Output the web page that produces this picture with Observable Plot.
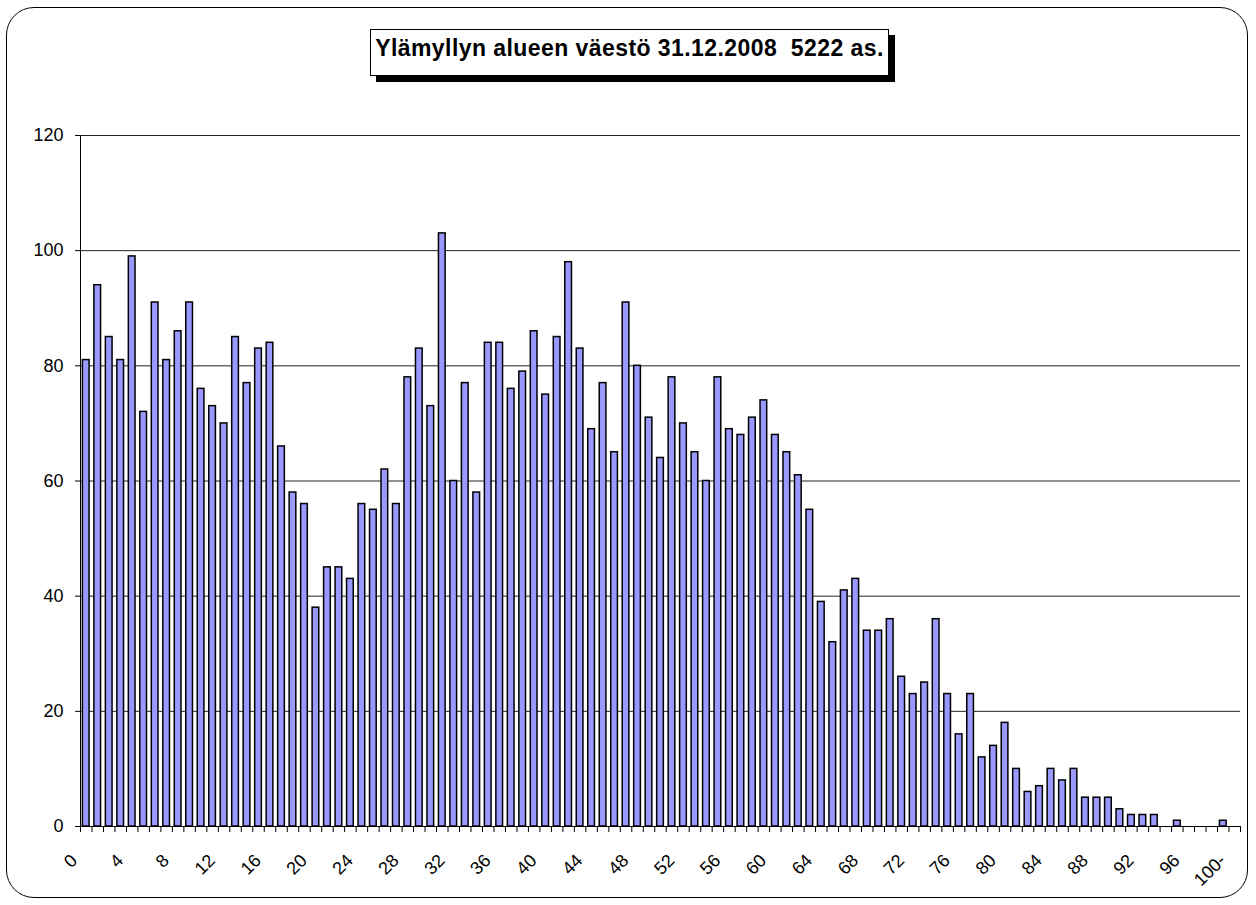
<!DOCTYPE html>
<html><head><meta charset="utf-8">
<script src="https://cdn.jsdelivr.net/npm/d3@7"></script>
<script src="https://cdn.jsdelivr.net/npm/@observablehq/plot@0.6"></script>
<style>
body{margin:0;background:#fff;font-family:"Liberation Sans",Arial,sans-serif;}
#wrap{position:relative;width:1256px;height:905px;overflow:hidden;}
#chart{position:absolute;left:0;top:0;}
#chart svg text{fill:#000;}
#border{position:absolute;left:6px;top:7px;width:1242px;height:891px;border:1.5px solid #000;border-radius:28px;pointer-events:none;box-sizing:border-box;}
#title{position:absolute;left:370px;top:29px;width:517px;height:45px;border:1px solid #000;background:#fff;box-shadow:6px 6px 0 #000;font-weight:bold;font-size:23px;line-height:37px;text-align:center;white-space:pre;letter-spacing:0.43px;color:#000;}
</style></head><body>
<div id="wrap"><div id="chart"></div><div id="title">Ylämyllyn alueen väestö 31.12.2008  5222 as.</div><div id="border"></div></div>
<script>
// Age categories 0..99 and "100-"
const ages = d3.range(0, 100).map(String).concat(["100-"]);
// Population counts per age
const counts = [
  81, 94, 85, 81, 99, 72, 91, 81, 86, 91,
  76, 73, 70, 85, 77, 83, 84, 66, 58, 56,
  38, 45, 45, 43, 56, 55, 62, 56, 78, 83,
  73, 103, 60, 77, 58, 84, 84, 76, 79, 86,
  75, 85, 98, 83, 69, 77, 65, 91, 80, 71,
  64, 78, 70, 65, 60, 78, 69, 68, 71, 74,
  68, 65, 61, 55, 39, 32, 41, 43, 34, 34,
  36, 26, 23, 25, 36, 23, 16, 23, 12, 14,
  18, 10, 6, 7, 10, 8, 10, 5, 5, 5,
  3, 2, 2, 2, 0, 1, 0, 0, 0, 1, 0
];
const xTickLabels = ["0","4","8","12","16","20","24","28","32","36","40","44","48","52","56","60","64","68","72","76","80","84","88","92","96","100-"];
const yTicks = [0, 20, 40, 60, 80, 100, 120];

const W = 1256, H = 905, ML = 80, MR = 16, MT = 135, MB = 79;
const bw = (W - ML - MR) / ages.length;
const data = ages.map((a, i) => ({age: a, count: counts[i]}));
const font = '"Liberation Sans", Arial, sans-serif';

const chart = Plot.plot({
  width: W, height: H,
  marginLeft: ML, marginRight: MR, marginTop: MT, marginBottom: MB,
  style: {fontFamily: font, fontSize: "18px", color: "#000", background: "transparent"},
  x: {type: "band", domain: ages, padding: 0},
  y: {domain: [0, 120]},
  marks: [
    Plot.gridY({ticks: yTicks, stroke: "#222", strokeOpacity: 1, strokeWidth: 1}),
    Plot.barY(data, {x: "age", y: "count", filter: d => d.count > 0, fill: "#9999FF", stroke: "#000", strokeWidth: 1.5, insetLeft: 2.4, insetRight: 2.4}),
    Plot.ruleY([0], {stroke: "#000", strokeWidth: 1}),
    Plot.ruleX([ages[0]], {stroke: "#000", strokeWidth: 1, dx: -bw / 2}),
    Plot.axisY({ticks: yTicks, tickSize: 5, tickPadding: 12, fontSize: 18, label: null}),
    Plot.axisX({ticks: ages, tickSize: 6, tickFormat: () => "", dx: -bw / 2, label: null}),
    Plot.axisX({ticks: [ages[ages.length - 1]], tickSize: 6, tickFormat: () => "", dx: bw / 2, label: null}),
    Plot.axisX({ticks: xTickLabels, tickSize: 0, tickPadding: 31, tickRotate: -45, textAnchor: "end", lineAnchor: "middle", dx: -12, fontSize: 18, label: null})
  ]
});
document.getElementById("chart").appendChild(chart);
</script>
</body></html>
